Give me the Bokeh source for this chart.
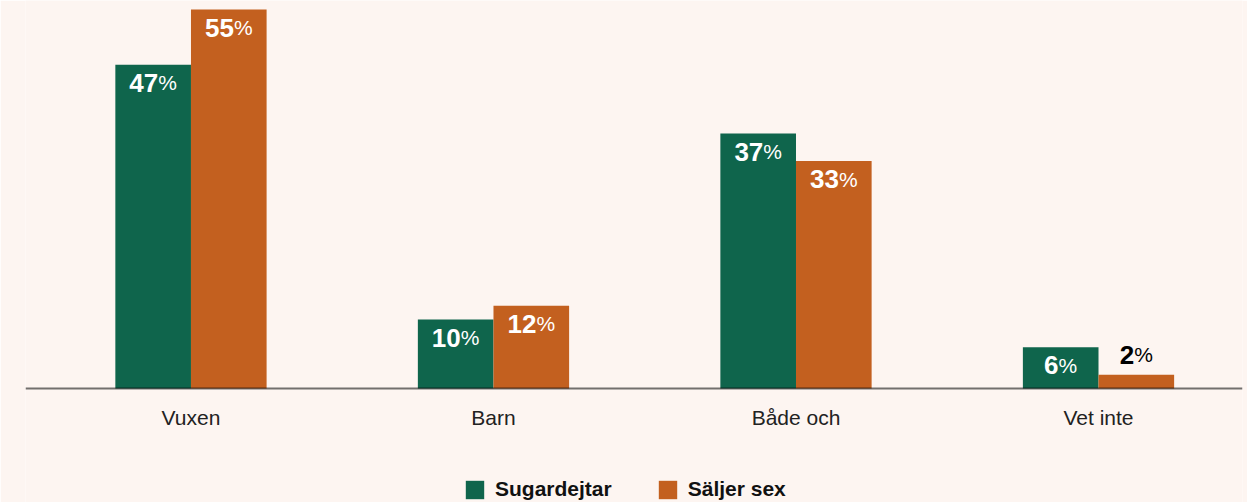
from bokeh.plotting import figure
from bokeh.models import ColumnDataSource, Legend, LegendItem, Span
from bokeh.core.properties import value
from bokeh.embed import file_html
from bokeh.resources import INLINE

categories = ["Vuxen", "Barn", "Både och", "Vet inte"]
sugardejtar = [47, 10, 37, 6]
saljer_sex = [55, 12, 33, 2]
series_names = ["Sugardejtar", "Säljer sex"]

BG = "#fdf5f1"
GREEN = "#0f654c"
ORANGE = "#c3601f"
FONT = value("Liberation Sans")

p = figure(width=1247, height=502, output_backend="svg", toolbar_location=None,
           x_range=(-0.547, 3.476), y_range=(-16.546, 56.31),
           min_border_left=25, min_border_right=5, min_border_top=0,
           min_border_bottom=0)
p.background_fill_color = BG
p.border_fill_color = BG
p.outline_line_color = None
p.grid.visible = False
p.axis.visible = False

bw = 0.25
NUM_FS, PCT_FS = 26, 21
renderers = []
for vals, col, off in [(sugardejtar, GREEN, -bw / 2), (saljer_sex, ORANGE, bw / 2)]:
    xs = [i + off for i in range(len(vals))]
    src = ColumnDataSource(dict(
        x=xs, top=vals,
        num=[str(v) for v in vals],
        pct=["%"] * len(vals),
        dx=[(len(str(v)) * 0.556 * NUM_FS - 0.889 * PCT_FS) / 2 for v in vals],
        dy=[18 if v >= 5 else -20 for v in vals],
        tc=["white" if v >= 5 else "black" for v in vals],
    ))
    r = p.vbar(x="x", top="top", width=bw, bottom=0, source=src,
               fill_color=col, line_color=None)
    renderers.append(r)
    p.text(x="x", y="top", text="num", source=src, x_offset="dx", y_offset="dy",
           text_align="right", text_baseline="alphabetic", text_color="tc",
           text_font=FONT, text_font_style="bold", text_font_size=f"{NUM_FS}px")
    p.text(x="x", y="top", text="pct", source=src, x_offset="dx", y_offset="dy",
           text_align="left", text_baseline="alphabetic", text_color="tc",
           text_font=FONT, text_font_style="normal", text_font_size=f"{PCT_FS}px")

# baseline
p.add_layout(Span(location=0, dimension="width", line_color="black",
                  line_alpha=0.55, line_width=2, level="overlay"))

# category labels
cat_src = ColumnDataSource(dict(x=list(range(len(categories))), y=[0] * len(categories),
                                text=categories))
p.text(x="x", y="y", text="text", source=cat_src, y_offset=29,
       text_align="center", text_baseline="middle", text_color="#222222",
       text_font=FONT, text_font_size="21px")

legend = Legend(items=[LegendItem(label=n, renderers=[r]) for n, r in zip(series_names, renderers)],
                orientation="horizontal", location=(438, 1),
                padding=0, margin=0, spacing=44, label_standoff=9,
                glyph_width=23, glyph_height=23,
                label_text_font="Liberation Sans", label_text_font_style="bold",
                label_text_font_size="21px", label_text_color="#111111",
                background_fill_alpha=0, border_line_color=None)
p.add_layout(legend, "center")

open("out.html", "w").write(file_html(p, INLINE))
